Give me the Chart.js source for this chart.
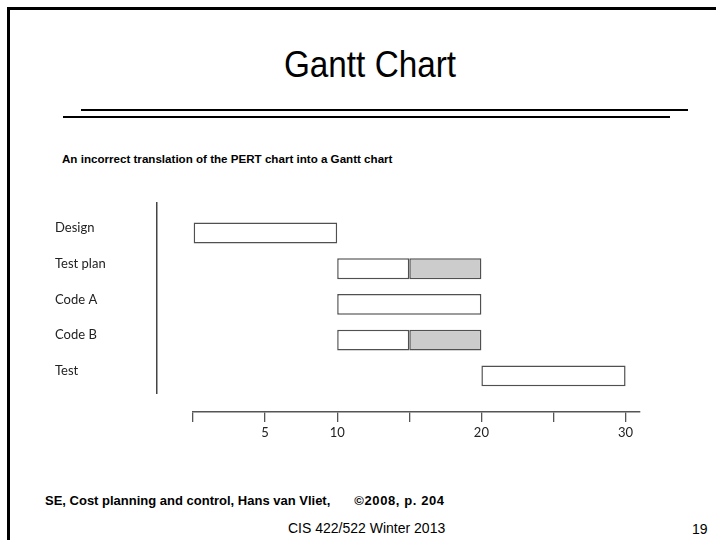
<!DOCTYPE html>
<html>
<head>
<meta charset="utf-8">
<script src="https://cdn.jsdelivr.net/npm/chart.js@4.4.1/dist/chart.umd.min.js"></script>
<style>
  body { margin: 0; width: 716px; height: 540px; background: #fff; position: relative; overflow: hidden; font-family: "Liberation Sans", Arial, sans-serif; color: #000; }
  .frameTop { position: absolute; left: 7px; top: 7px; width: 709px; height: 3px; background: #000; }
  .frameLeft { position: absolute; left: 7px; top: 7px; width: 3px; height: 533px; background: #000; }
  .rule { position: absolute; height: 2px; background: #000; }
  .txt { position: absolute; white-space: nowrap; line-height: 1; }
  #title { font-size: 37px; left: 370px; top: 46px; transform: translateX(-50%) scaleX(0.9); }
  #sub { font-size: 11.6px; font-weight: bold; left: 62px; top: 153px; }
  #cite { font-size: 13px; font-weight: bold; left: 45px; top: 494px; }
  #cite span { margin-left: 24px; letter-spacing: 0.6px; }
  #course { font-size: 14px; left: 288px; top: 521px; }
  #page { font-size: 14px; left: 692px; top: 522px; }
  #gantt { position: absolute; left: 0; top: 190px; }
</style>
</head>
<body>
<div class="frameTop"></div>
<div class="frameLeft"></div>
<div class="txt" id="title">Gantt Chart</div>
<div class="rule" style="left:81px; top:109px; width:607px;"></div>
<div class="rule" style="left:63px; top:116px; width:607px;"></div>
<div class="txt" id="sub">An incorrect translation of the PERT chart into a Gantt chart</div>
<canvas id="gantt" width="716" height="260"></canvas>
<div class="txt" id="cite">SE, Cost planning and control, Hans van Vliet,<span>©2008, p. 204</span></div>
<div class="txt" id="course">CIS 422/522 Winter 2013</div>
<div class="txt" id="page">19</div>

<script>
// tasks, top to bottom
var tasks = ["Design", "Test plan", "Code A", "Code B", "Test"];
// white part of each bar (start, end)
var planStart = [0, 10, 10, 10, 20];
var planEnd = [10, 15, 20, 15, 30];
// grey part (null = none)
var greyStart = [null, 15, null, 15, null];
var greyEnd = [null, 20, null, 20, null];
// time axis
var tickValues = [0, 5, 10, 15, 20, 25, 30];
var tickLabels = ["", "5", "10", "", "20", "", "30"];

var labelFont = { family: "Lato, 'DejaVu Sans Condensed', sans-serif", size: 13 };

function bars(starts, ends) {
  var out = [];
  for (var i = 0; i < tasks.length; i++) {
    if (starts[i] != null) out.push({ x: [starts[i], ends[i]], y: i });
  }
  return out;
}

var ctx = document.getElementById("gantt").getContext("2d");
var chart = new Chart(ctx, {
  type: "bar",
  data: {
    datasets: [{
      data: bars(planStart, planEnd),
      backgroundColor: "#ffffff",
      borderColor: "#505050",
      borderWidth: 1.5,
      borderSkipped: false,
      xAxisID: "x",
      yAxisID: "y"
    }, {
      data: bars(greyStart, greyEnd),
      backgroundColor: "#cccccc",
      borderColor: "#505050",
      borderWidth: 1.5,
      borderSkipped: false,
      xAxisID: "x",
      yAxisID: "y"
    }]
  },
  options: {
    indexAxis: "y",
    responsive: false,
    animation: false,
    grouped: false,
    barPercentage: 0.73,
    categoryPercentage: 0.8,
    layout: { padding: { top: 13, left: 55, right: 76, bottom: 8 } },
    plugins: { legend: { display: false }, tooltip: { enabled: false } },
    scales: {
      x: {
        type: "linear",
        position: "bottom",
        weight: 1,
        min: 0,
        max: 31,
        afterBuildTicks: function (s) { s.ticks = tickValues.map(function (v) { return { value: v }; }); },
        afterFit: function (s) { s.height = 30; },
        ticks: {
          autoSkip: false,
          maxRotation: 0,
          padding: 3,
          color: "#222",
          font: labelFont,
          callback: function (v) { return tickLabels[tickValues.indexOf(v)]; }
        },
        grid: { drawOnChartArea: false, drawTicks: true, tickLength: 10, color: "#555", lineWidth: 1.3 },
        border: { display: true, color: "#555", width: 1.5 }
      },
      xSpace: {
        type: "linear",
        position: "bottom",
        weight: 0,
        afterFit: function (s) { s.height = 19; },
        ticks: { display: false },
        grid: { display: false },
        border: { display: false }
      },
      y: {
        type: "linear",
        position: "left",
        weight: 1,
        offset: false,
        reverse: true,
        min: -0.84,
        max: 4.48,
        afterBuildTicks: function (s) { s.ticks = tasks.map(function (t, i) { return { value: i }; }); },
        afterFit: function (s) { s.width = 102; },
        ticks: {
          crossAlign: "far",
          labelOffset: -5,
          color: "#222",
          font: labelFont,
          callback: function (v) { return tasks[v]; }
        },
        grid: { drawOnChartArea: false, drawTicks: false },
        border: { display: true, color: "#444", width: 1.5 }
      },
      ySpace: {
        type: "linear",
        position: "left",
        weight: 0,
        afterFit: function (s) { s.width = 36; },
        ticks: { display: false },
        grid: { display: false },
        border: { display: false }
      }
    }
  }
});
</script>
</body>
</html>
